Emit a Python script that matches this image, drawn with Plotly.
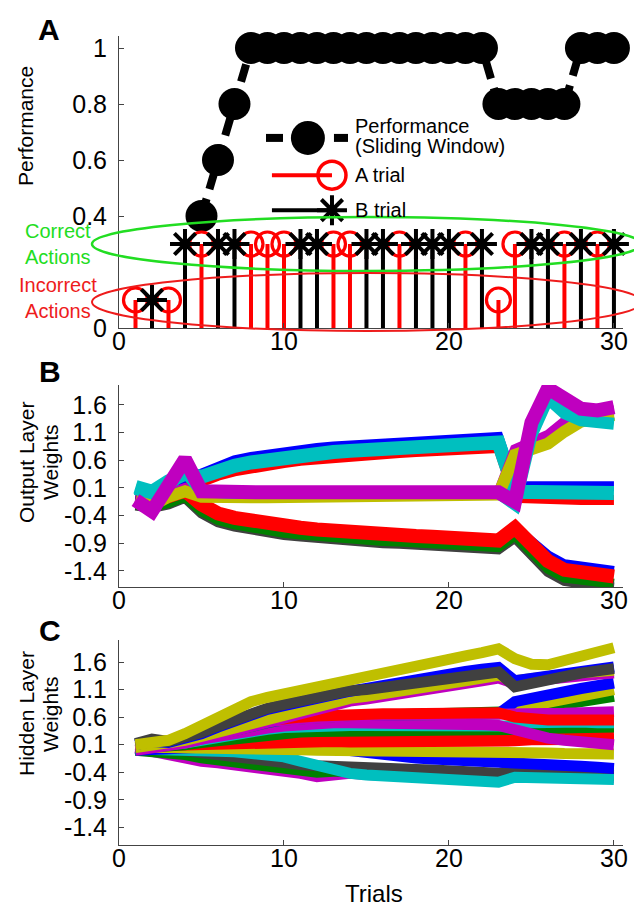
import plotly.graph_objects as go

# ---------------- data ----------------
trials = list(range(1, 31))

perf_trials = list(range(5, 31))
performance = [0.4, 0.6, 0.8, 1, 1, 1, 1, 1, 1, 1, 1, 1, 1, 1, 1, 1, 1, 1,
               0.8, 0.8, 0.8, 0.8, 0.8, 1, 1, 1]

a_trials = [1, 3, 5, 8, 9, 10, 13, 14, 17, 21, 23, 24, 27, 29]
a_vals = [0.1, 0.1, 0.3, 0.3, 0.3, 0.3, 0.3, 0.3, 0.3, 0.3, 0.1, 0.3, 0.3, 0.3]
b_trials = [2, 4, 6, 7, 11, 12, 15, 16, 18, 19, 20, 22, 25, 26, 28, 30]
b_vals = [0.1, 0.3, 0.3, 0.3, 0.3, 0.3, 0.3, 0.3, 0.3, 0.3, 0.3, 0.3, 0.3, 0.3, 0.3, 0.3]

# output layer weights (panel B)
out_gray_dn = [-0.22, -0.26, -0.2, -0.08, -0.36, -0.52, -0.6, -0.66, -0.71, -0.75, -0.78, -0.81, -0.84, -0.86,
               -0.88, -0.9, -0.91, -0.93, -0.94, -0.95, -0.97, -0.98, -1.01, -0.8, -1.13, -1.42, -1.58,
               -1.64, -1.67, -1.7]
out_green_dn = [-0.2, -0.24, -0.17, -0.06, -0.32, -0.48, -0.56, -0.62, -0.67, -0.71, -0.74, -0.77, -0.8,
                -0.82, -0.84, -0.86, -0.87, -0.89, -0.9, -0.91, -0.93, -0.94, -0.97, -0.76, -1.08, -1.36,
                -1.52, -1.57, -1.6, -1.63]
out_blue_dn = [-0.1, -0.12, -0.05, 0.05, -0.2, -0.36, -0.44, -0.5, -0.55, -0.59, -0.62, -0.65, -0.68, -0.7,
               -0.72, -0.74, -0.75, -0.77, -0.78, -0.79, -0.81, -0.82, -0.85, -0.62, -0.86, -1.12, -1.28,
               -1.33, -1.36, -1.4]
out_red_dn = [-0.1, -0.12, -0.05, 0.05, -0.2, -0.36, -0.44, -0.5, -0.55, -0.59, -0.62, -0.65, -0.68, -0.7,
              -0.72, -0.74, -0.75, -0.77, -0.78, -0.79, -0.81, -0.82, -0.85, -0.62, -0.95, -1.22, -1.38,
              -1.43, -1.46, -1.5]
out_blue_up = [-0.04, -0.08, 0.12, 0.24, 0.4, 0.52, 0.6, 0.66, 0.71, 0.75, 0.79, 0.82, 0.85, 0.87, 0.89,
               0.91, 0.93, 0.95, 0.96, 0.98, 0.99, 1.01, 1.02, 0.13, 0.13, 0.13, 0.13, 0.13, 0.13, 0.13]
out_red_up = [-0.12, -0.14, -0.02, 0.1, 0.2, 0.32, 0.4, 0.46, 0.51, 0.55, 0.59, 0.62, 0.65, 0.67, 0.69,
              0.71, 0.73, 0.75, 0.76, 0.78, 0.79, 0.81, 0.82, -0.08, -0.1, -0.11, -0.12, -0.12, -0.12, -0.12]
out_cyan_up = [0.12, 0.03, 0.22, 0.36, 0.3, 0.42, 0.5, 0.56, 0.61, 0.65, 0.69, 0.72, 0.75, 0.77, 0.79,
               0.81, 0.83, 0.85, 0.86, 0.88, 0.89, 0.91, 0.92, 0.03, 0.02, 0.01, 0.01, 0.01, 0.01, 0.01]
out_yellow = [-0.12, -0.22, -0.06, 0.04, -0.06, -0.08, -0.08, -0.07, -0.07, -0.07, -0.07, -0.06, -0.06,
              -0.06, -0.06, -0.06, -0.06, -0.06, -0.06, -0.06, -0.06, -0.05, -0.02, 0.7, 0.78, 0.9, 1.12,
              1.3, 1.36, 1.42]
out_mag_thin = [-0.1, -0.2, 0.0, 0.1, 0.0, 0.0, 0.0, 0.0, 0.0, 0.0, 0.0, 0.0, 0.0, 0.0, 0.0, 0.0, 0.0,
                0.0, 0.0, 0.0, 0.0, 0.0, 0.02, 0.8, 0.94, 1.06, 1.3, 1.44, 1.48, 1.5]
out_cyan_pk = [0.08, 0.0, 0.15, 0.4, 0.04, 0.01, 0.01, 0.01, 0.01, 0.01, 0.01, 0.01, 0.01, 0.01, 0.01,
               0.01, 0.01, 0.01, 0.01, 0.01, 0.01, 0.01, 0.01, -0.2, 1.05, 1.72, 1.45, 1.32, 1.29, 1.26]
out_magenta = [-0.12, -0.32, 0.15, 0.62, 0.04, 0.02, 0.02, 0.02, 0.02, 0.02, 0.02, 0.02, 0.02, 0.02, 0.02,
               0.02, 0.02, 0.02, 0.02, 0.02, 0.02, 0.02, 0.02, -0.15, 1.28, 1.9, 1.68, 1.53, 1.5, 1.56]

# hidden layer weights (panel C)
hid_mag_lo = [0.04, -0.02, -0.12, -0.14, -0.2, -0.23, -0.26, -0.3, -0.33, -0.37, -0.42, -0.48, -0.44, -0.42,
              -0.44, -0.46, -0.47, -0.48, -0.49, -0.5, -0.5, -0.51, -0.52, -0.46, -0.47, -0.48, -0.49, -0.5,
              -0.5, -0.5]
hid_green_lo = [0.0, -0.02, -0.06, -0.08, -0.14, -0.18, -0.21, -0.24, -0.27, -0.3, -0.34, -0.4, -0.38, -0.36,
                -0.38, -0.4, -0.41, -0.42, -0.43, -0.44, -0.45, -0.46, -0.47, -0.42, -0.43, -0.44, -0.45,
                -0.45, -0.46, -0.46]
hid_gray_dn = [0.1, 0.06, 0.02, -0.02, -0.06, -0.1, -0.14, -0.17, -0.2, -0.23, -0.26, -0.28, -0.3, -0.31,
               -0.32, -0.33, -0.34, -0.35, -0.36, -0.37, -0.38, -0.4, -0.42, -0.36, -0.36, -0.36, -0.37, -0.37,
               -0.38, -0.38]
hid_cyan_dn = [0.02, 0.02, 0.0, -0.01, -0.01, -0.02, -0.03, -0.05, -0.08, -0.12, -0.2, -0.28, -0.36, -0.42,
               -0.45, -0.47, -0.49, -0.51, -0.52, -0.53, -0.55, -0.56, -0.58, -0.49, -0.5, -0.5, -0.51, -0.51,
               -0.52, -0.53]
hid_blue_dn = [0.0, 0.02, 0.03, 0.05, 0.06, 0.07, 0.08, 0.09, 0.1, 0.1, 0.1, 0.06, 0.02, -0.03, -0.06, -0.09,
               -0.12, -0.14, -0.16, -0.17, -0.19, -0.21, -0.23, -0.22, -0.24, -0.26, -0.27, -0.29, -0.31, -0.33]
hid_yellow_lo = [0.06, 0.06, 0.05, 0.05, 0.04, 0.04, 0.03, 0.03, 0.02, 0.02, 0.01, 0.0, 0.0, -0.01, -0.01,
                 -0.02, -0.02, -0.02, -0.03, -0.03, -0.03, -0.04, -0.04, -0.04, -0.05, -0.05, -0.06, -0.06,
                 -0.07, -0.07]
hid_red_lo = [0.07, 0.08, 0.09, 0.1, 0.12, 0.14, 0.15, 0.16, 0.17, 0.17, 0.17, 0.17, 0.16, 0.15, 0.15, 0.15,
              0.14, 0.14, 0.14, 0.14, 0.14, 0.14, 0.14, 0.17, 0.19, 0.2, 0.2, 0.2, 0.2, 0.2]
hid_red_mid = [0.08, 0.09, 0.1, 0.12, 0.15, 0.18, 0.2, 0.21, 0.22, 0.23, 0.23, 0.23, 0.22, 0.21, 0.2, 0.2,
               0.19, 0.19, 0.19, 0.19, 0.18, 0.18, 0.18, 0.22, 0.27, 0.3, 0.3, 0.3, 0.31, 0.31]
hid_green_mid = [0.04, 0.05, 0.06, 0.1, 0.14, 0.18, 0.22, 0.26, 0.29, 0.31, 0.33, 0.34, 0.34, 0.35, 0.35,
                 0.35, 0.35, 0.35, 0.35, 0.35, 0.35, 0.35, 0.35, 0.36, 0.38, 0.4, 0.41, 0.41, 0.42, 0.42]
hid_cyan_mid = [0.05, 0.07, 0.09, 0.13, 0.18, 0.24, 0.29, 0.34, 0.38, 0.41, 0.43, 0.44, 0.45, 0.45, 0.45,
                0.45, 0.45, 0.45, 0.45, 0.45, 0.45, 0.45, 0.45, 0.44, 0.5, 0.52, 0.52, 0.51, 0.5, 0.5]
hid_mag_mid = [0.06, 0.08, 0.1, 0.14, 0.2, 0.26, 0.31, 0.36, 0.4, 0.44, 0.47, 0.49, 0.5, 0.5, 0.5, 0.5,
               0.49, 0.49, 0.48, 0.48, 0.47, 0.46, 0.45, 0.36, 0.28, 0.22, 0.18, 0.15, 0.12, 0.1]
hid_green_hi = [0.08, 0.1, 0.1, 0.15, 0.22, 0.3, 0.38, 0.45, 0.5, 0.55, 0.58, 0.6, 0.62, 0.63, 0.63, 0.64,
                0.64, 0.64, 0.65, 0.65, 0.65, 0.66, 0.66, 0.7, 0.74, 0.78, 0.83, 0.88, 0.93, 0.98]
hid_yellow_rise = [0.08, 0.1, 0.1, 0.15, 0.22, 0.3, 0.38, 0.45, 0.5, 0.55, 0.58, 0.6, 0.62, 0.63, 0.63,
                   0.64, 0.64, 0.64, 0.65, 0.65, 0.65, 0.66, 0.66, 0.75, 0.8, 0.86, 0.92, 0.98, 1.04, 1.1]
hid_blue_rise = [0.08, 0.1, 0.1, 0.15, 0.22, 0.3, 0.38, 0.45, 0.5, 0.55, 0.58, 0.6, 0.62, 0.63, 0.63, 0.64,
                 0.64, 0.64, 0.65, 0.65, 0.65, 0.66, 0.66, 0.88, 0.95, 1.0, 1.06, 1.12, 1.17, 1.22]
hid_mag_hi = [0.08, 0.1, 0.1, 0.16, 0.24, 0.33, 0.41, 0.47, 0.52, 0.55, 0.57, 0.59, 0.61, 0.62, 0.63, 0.63,
              0.63, 0.64, 0.64, 0.64, 0.65, 0.65, 0.65, 0.64, 0.65, 0.66, 0.67, 0.68, 0.69, 0.7]
hid_red_hi = [0.1, 0.12, 0.12, 0.18, 0.26, 0.36, 0.44, 0.5, 0.55, 0.58, 0.6, 0.62, 0.64, 0.65, 0.66, 0.66,
              0.66, 0.67, 0.67, 0.67, 0.68, 0.68, 0.68, 0.6, 0.56, 0.55, 0.55, 0.55, 0.55, 0.55]
hid_mag_thin = [0.0, 0.03, 0.07, 0.13, 0.2, 0.28, 0.36, 0.44, 0.52, 0.59, 0.66, 0.73, 0.81, 0.89, 0.93, 0.97,
                1.01, 1.06, 1.11, 1.16, 1.21, 1.26, 1.31, 1.21, 1.26, 1.3, 1.33, 1.36, 1.38, 1.4]
hid_yellow_mid = [0.05, 0.08, 0.12, 0.18, 0.25, 0.33, 0.41, 0.49, 0.57, 0.64, 0.71, 0.78, 0.86, 0.94, 0.98,
                  1.02, 1.06, 1.11, 1.16, 1.21, 1.26, 1.31, 1.36, 1.26, 1.31, 1.35, 1.38, 1.41, 1.43, 1.45]
hid_blue_up = [0.1, 0.16, 0.14, 0.2, 0.3, 0.42, 0.54, 0.66, 0.74, 0.81, 0.88, 0.96, 1.04, 1.07, 1.12, 1.18,
               1.24, 1.29, 1.34, 1.39, 1.43, 1.47, 1.5, 1.26, 1.3, 1.35, 1.4, 1.44, 1.48, 1.51]
hid_gray_up = [0.12, 0.2, 0.16, 0.22, 0.32, 0.44, 0.56, 0.68, 0.76, 0.83, 0.9, 0.98, 1.06, 1.08, 1.1, 1.14,
               1.18, 1.22, 1.26, 1.3, 1.34, 1.38, 1.42, 1.15, 1.22, 1.28, 1.34, 1.4, 1.44, 1.48]
hid_yellow_top = [0.1, 0.15, 0.18, 0.3, 0.45, 0.6, 0.74, 0.88, 0.96, 1.02, 1.07, 1.13, 1.2, 1.25, 1.3, 1.37,
                  1.44, 1.51, 1.58, 1.65, 1.71, 1.77, 1.84, 1.66, 1.56, 1.55, 1.62, 1.7, 1.78, 1.86]

# ---------------- styling ----------------
B, G, R, C, M, Y, K = '#0000ff', '#008000', '#ff0000', '#00bfbf', '#bf00bf', '#bfbf00', '#404040'
GREEN_NOTE = '#22dd22'
RED_NOTE = '#ee1c1c'
FONT = 'Liberation Sans, Arial, sans-serif'

W, H = 642, 908
ML, MR, MT, MB = 111, 27, 28, 71
PW, PH = W - ML - MR, H - MT - MB


def px(x):
    return (x - ML) / PW


def py(y):
    return (H - MB - y) / PH


fig = go.Figure()

# ---- panel A ----
fig.add_trace(go.Scatter(
    x=perf_trials, y=performance, mode='lines+markers', xaxis='x', yaxis='y',
    line=dict(color='black', width=8, dash='18px,10px'),
    marker=dict(color='black', size=32), cliponaxis=False, showlegend=False,
))
fig.add_trace(go.Scatter(
    x=a_trials, y=a_vals, mode='markers', xaxis='x', yaxis='y',
    marker=dict(symbol='circle-open', size=24, color=R, line=dict(width=3.2, color=R)),
    error_y=dict(type='data', symmetric=False, array=[0] * len(a_vals), arrayminus=a_vals,
                 thickness=4, width=0, color=R),
    cliponaxis=False, showlegend=False,
))
fig.add_trace(go.Scatter(
    x=b_trials, y=b_vals, mode='markers', xaxis='x', yaxis='y',
    marker=dict(symbol='asterisk-open', size=25, color='black', line=dict(width=4, color='black')),
    error_y=dict(type='data', symmetric=False, array=[0] * len(b_vals), arrayminus=b_vals,
                 thickness=4, width=0, color='black'),
    cliponaxis=False, showlegend=False,
))

# hand-made legend (panel A data coordinates)
fig.add_trace(go.Scatter(x=[8.91, 9.94, None, 13.03, 13.88], y=[0.679, 0.679, None, 0.679, 0.679],
                         mode='lines', line=dict(color='black', width=8), showlegend=False))
fig.add_trace(go.Scatter(x=[11.45], y=[0.679], mode='markers', marker=dict(color='black', size=34),
                         showlegend=False))
fig.add_trace(go.Scatter(x=[9.27, 12.91], y=[0.546, 0.546], mode='lines', line=dict(color=R, width=4),
                         showlegend=False))
fig.add_trace(go.Scatter(x=[12.91], y=[0.546], mode='markers',
                         marker=dict(symbol='circle-open', size=28, color=R, line=dict(width=3.5, color=R)),
                         showlegend=False))
fig.add_trace(go.Scatter(x=[9.27, 12.67], y=[0.421, 0.421], mode='lines', line=dict(color='black', width=4),
                         showlegend=False))
fig.add_trace(go.Scatter(x=[12.91], y=[0.421], mode='markers',
                         marker=dict(symbol='asterisk-open', size=25, color='black',
                                     line=dict(width=4, color='black')),
                         showlegend=False))

# ---- panel B ----
out_lines = [
    (out_gray_dn, K, 10), (out_green_dn, G, 10), (out_blue_dn, B, 10), (out_red_dn, R, 14),
    (out_blue_up, B, 10), (out_red_up, R, 10), (out_cyan_up, C, 14),
    (out_mag_thin, M, 10), (out_yellow, Y, 12), (out_cyan_pk, C, 12), (out_magenta, M, 14),
]
for vals, col, w in out_lines:
    fig.add_trace(go.Scatter(x=trials, y=vals, mode='lines', xaxis='x2', yaxis='y2',
                             line=dict(color=col, width=w), showlegend=False))

# ---- panel C ----
hid_lines = [
    (hid_mag_lo, M), (hid_green_lo, G), (hid_gray_dn, K), (hid_cyan_dn, C), (hid_blue_dn, B),
    (hid_yellow_lo, Y), (hid_red_lo, R), (hid_red_mid, R), (hid_green_mid, G), (hid_cyan_mid, C),
    (hid_mag_mid, M), (hid_green_hi, G), (hid_yellow_rise, Y), (hid_blue_rise, B), (hid_mag_hi, M),
    (hid_red_hi, R), (hid_mag_thin, M), (hid_yellow_mid, Y), (hid_blue_up, B), (hid_gray_up, K),
    (hid_yellow_top, Y),
]
for vals, col in hid_lines:
    fig.add_trace(go.Scatter(x=trials, y=vals, mode='lines', xaxis='x3', yaxis='y3',
                             line=dict(color=col, width=11), showlegend=False))


def xax(anchor):
    return dict(domain=[0, 1], anchor=anchor, range=[0, 30.55], tickvals=[0, 10, 20, 30],
                ticks='inside', ticklen=5, tickcolor='#444', showline=True, linecolor='#444',
                linewidth=1, showgrid=False, zeroline=False, ticklabelstandoff=-9,
                tickfont=dict(family=FONT, size=25, color='black'))


def yax(anchor, domain, rng, vals, text):
    return dict(domain=domain, anchor=anchor, range=rng, tickvals=vals, ticktext=text,
                ticks='inside', ticklen=5, tickcolor='#444', showline=True, linecolor='#444',
                linewidth=1, showgrid=False, zeroline=False, ticklabelstandoff=6,
                tickfont=dict(family=FONT, size=25, color='black'))


w_vals = [-1.4, -0.9, -0.4, 0.1, 0.6, 1.1, 1.6]
w_text = ['-1.4', '-0.9', '-0.4', '0.1', '0.6', '1.1', '1.6']

ann = []


def note(text, x, y, size, color='black', bold=False, angle=0, xanchor='center'):
    ann.append(dict(text=f'<b>{text}</b>' if bold else text, x=px(x), y=py(y), xref='paper',
                    yref='paper', showarrow=False, textangle=angle, xanchor=xanchor,
                    yanchor='middle', font=dict(family=FONT, size=size, color=color)))


note('A', 41, 21, 30, bold=True)
note('B', 42, 363, 30, bold=True)
note('C', 42, 622, 30, bold=True)
note('Performance', 17, 118, 21, angle=-90)
note('Output Layer', 18, 455, 21, angle=-90)
note('Weights', 42, 455, 21, angle=-90)
note('Hidden Layer', 18, 706, 21, angle=-90)
note('Weights', 42, 707, 21, angle=-90)
note('Trials', 366, 886, 24)
note('Correct<br>Actions', 50, 236, 20, color=GREEN_NOTE)
note('Incorrect<br>Actions', 50, 290, 20, color=RED_NOTE)
note('Performance', 345, 118, 20, xanchor='left')
note('(Sliding Window)', 345, 138, 20, xanchor='left')
note('A trial', 345, 167, 20, xanchor='left')
note('B trial', 345, 202, 20, xanchor='left')

shapes = [
    dict(type='circle', xref='paper', yref='paper', x0=px(84), x1=px(633), y0=py(263), y1=py(209),
         line=dict(color=GREEN_NOTE, width=2.5)),
    dict(type='circle', xref='paper', yref='paper', x0=px(84), x1=px(634), y0=py(323), y1=py(265),
         line=dict(color=RED_NOTE, width=2)),
]

fig.update_layout(
    width=W, height=H, margin=dict(l=ML, r=MR, t=MT, b=MB),
    paper_bgcolor='white', plot_bgcolor='white', showlegend=False,
    font=dict(family=FONT, color='black'),
    xaxis=xax('y'),
    yaxis=yax('x', [py(320), 1.0], [0, 1.043], [0, 0.4, 0.6, 0.8, 1], ['0', '0.4', '0.6', '0.8', '1']),
    xaxis2=xax('y2'),
    yaxis2=yax('x2', [py(579), py(377)], [-1.69, 1.96], w_vals, w_text),
    xaxis3=xax('y3'),
    yaxis3=yax('x3', [0, py(632)], [-1.72, 2.0], w_vals, w_text),
    annotations=ann, shapes=shapes,
)

fig.write_html("out.html")
